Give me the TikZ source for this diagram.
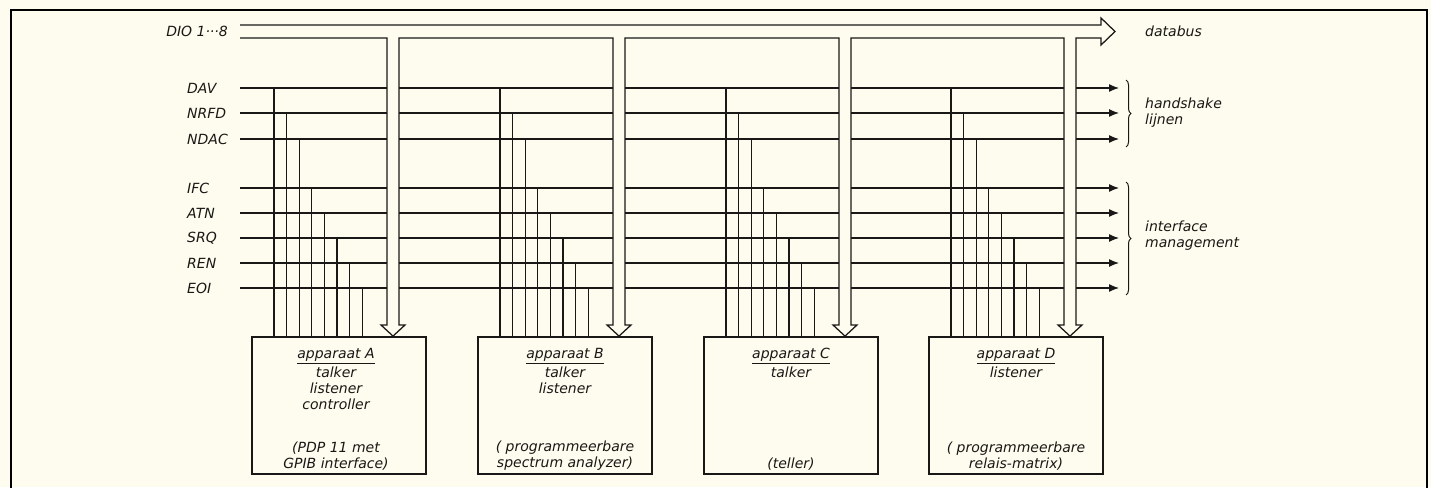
\documentclass[tikz,border=0pt]{standalone}
\usepackage{fontspec}
\newfontfamily\labfont{DejaVu Sans}
\usetikzlibrary{arrows.meta,decorations.pathreplacing,calc}
\definecolor{paper}{RGB}{253,252,238}
\definecolor{ink}{RGB}{26,24,22}
\begin{document}
\begin{tikzpicture}[x=1pt,y=-1pt,line join=miter,
  wire/.style={draw=ink,line width=1.25pt},
  busline/.style={draw=ink,line width=1.25pt},
  bracestyle/.style={draw=ink,line width=1pt,decorate,decoration={brace,amplitude=5pt}},
  lab/.style={font=\labfont\itshape\fontsize{14}{16}\selectfont,text=ink,inner sep=0pt},
  dev/.style={draw=ink,line width=1.8pt,minimum width=174pt,minimum height=137pt,inner sep=0pt},
  sig/.style={wire,-{Latex[length=10pt,width=8pt]}},
  frame/.style={draw=black,line width=2.6pt}]
\fill[paper] (0,0) rectangle (1431,487);
\useasboundingbox (0,0) rectangle (1431,487);
% outer frame
\coordinate (fbl) at (11,492);
\coordinate (ftl) at (11,10);
\coordinate (ftr) at (1427,10);
\coordinate (fbr) at (1427,492);
\draw[frame] (fbl) -- (ftl) -- (ftr) -- (fbr);

% devices
\node[dev] (A) at (339,405.5) {};
\node[dev] (B) at (565,405.5) {};
\node[dev] (C) at (791,405.5) {};
\node[dev] (D) at (1016,405.5) {};

\node[lab,anchor=north,align=center] (At) at ($(A.north)+(-3,12)$) {\underline{apparaat A}\\[3pt]talker\\listener\\controller};
\node[lab,anchor=south,align=center] (Ab) at ($(A.south)+(-3,-4)$) {(PDP 11 met\\GPIB interface)};
\node[lab,anchor=north,align=center] (Bt) at ($(B.north)+(0,12)$) {\underline{apparaat B}\\[3pt]talker\\listener};
\node[lab,anchor=south,align=center] (Bb) at ($(B.south)+(0,-4)$) {( programmeerbare\\spectrum analyzer)};
\node[lab,anchor=north,align=center] (Ct) at ($(C.north)+(0,12)$) {\underline{apparaat C}\\[3pt]talker};
\node[lab,anchor=south,align=center] (Cb) at ($(C.south)+(0,-4)$) {(teller)};
\node[lab,anchor=north,align=center] (Dt) at ($(D.north)+(0,12)$) {\underline{apparaat D}\\[3pt]listener};
\node[lab,anchor=south,align=center] (Db) at ($(D.south)+(0,-4)$) {( programmeerbare\\relais-matrix)};

% data bus (hollow)
\draw[busline] (240,25) -- (1101,25) -- (1101,18) -- (1115,31.5) -- (1101,45) -- (1101,38)
  -- (1076,38) -- (1076,325) -- (1082,325) -- (D.north -| 1070,0) -- (1058,325) -- (1064,325) -- (1064,38)
  -- (851,38) -- (851,325) -- (857,325) -- (C.north -| 845,0) -- (833,325) -- (839,325) -- (839,38)
  -- (625,38) -- (625,325) -- (631,325) -- (B.north -| 619,0) -- (607,325) -- (613,325) -- (613,38)
  -- (399,38) -- (399,325) -- (405,325) -- (A.north -| 393,0) -- (381,325) -- (387,325) -- (387,38)
  -- (240,38);
\node[lab,anchor=east] (dio) at (228,31.5) {DIO 1···8};
\node[lab,anchor=west] (databus) at (1145,31.5) {databus};

% control lines
\foreach \nm/\y [count=\i from 0] in {DAV/88,NRFD/113,NDAC/139,IFC/188,ATN/213,SRQ/238,REN/263,EOI/288}{
  \node[lab,anchor=west] (l\nm) at (187,\y) {\nm};
  \coordinate (s\i) at (240,\y);
  \coordinate (e\i) at (1119,\y);
  \draw[wire] (s\i) -- (387,\y);
  \draw[wire] (399,\y) -- (613,\y);
  \draw[wire] (625,\y) -- (839,\y);
  \draw[wire] (851,\y) -- (1064,\y);
  \draw[sig] (1076,\y) -- (e\i);
  \foreach \bus/\dv in {393/A,619/B,845/C,1070/D}{
    \pgfmathsetmacro{\tx}{\bus-119+12.6*\i}
    \draw[wire] (\tx,\y) -- (\dv.north -| \tx,0);
  }
}

% braces and group labels
\coordinate (hb1) at (1126,80);
\coordinate (hb2) at (1126,147);
\coordinate (ib1) at (1126,182);
\coordinate (ib2) at (1126,295);
\draw[bracestyle] (hb1) -- (hb2);
\draw[bracestyle] (ib1) -- (ib2);
\node[lab,anchor=west,align=left] (hs) at (1145,113) {handshake\\lijnen};
\node[lab,anchor=west,align=left] (im) at (1145,236) {interface\\management};
\end{tikzpicture}
\end{document}
